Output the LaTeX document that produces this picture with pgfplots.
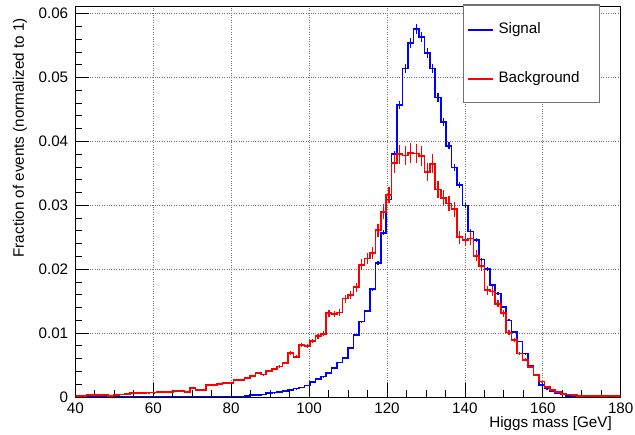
\documentclass[border=0pt]{standalone}
\usepackage{fontspec}
\setmainfont{Liberation Sans}
\usepackage{pgfplots}
\usepackage{pgfplotstable}
\pgfplotsset{compat=1.18}
\pgfplotstableread{
x s b
40 0 0.0002
41.4 0 0.0002
42.8 0 0.0003
44.2 0 0.0003
45.6 0 0.0003
47 0 0.0003
48.4 0 0.0002
49.8 0 0.0003
51.2 0 0.0004
52.6 0 0.0005
54 0 0.0006
55.4 0 0.0006
56.8 0 0.0006
58.2 0 0.0007
59.6 0 0.0007
61 0 0.0008
62.4 0 0.0008
63.8 0 0.0008
65.2 0 0.0009
66.6 0 0.0009
68 0 0.0008
69.4 0 0.0014
70.8 0 0.0011
72.2 0 0.0011
73.6 0.0001 0.0019
75 0.0001 0.0019
76.4 0.0001 0.0020
77.8 0.0001 0.0022
79.2 0.0001 0.0022
80.6 0.0001 0.0027
82 0.0001 0.0027
83.4 0.0002 0.0030
84.8 0.0003 0.0033
86.2 0.0003 0.0038
87.6 0.0004 0.0035
89 0.0006 0.0041
90.4 0.0007 0.0044
91.8 0.0008 0.0048
93.2 0.0009 0.0053
94.6 0.0011 0.0069
96 0.0013 0.0063
97.4 0.0015 0.0081
98.8 0.0018 0.0080
100.2 0.0023 0.0088
101.6 0.0028 0.0095
103 0.0032 0.0099
104.4 0.0038 0.0131
105.8 0.0045 0.0130
107.2 0.0054 0.0132
108.6 0.0061 0.0154
110 0.0077 0.0160
111.4 0.0097 0.0172
112.8 0.0118 0.0207
114.2 0.0135 0.0217
115.6 0.0169 0.0225
117 0.0210 0.0261
118.4 0.0257 0.0290
119.8 0.0309 0.0316
121.2 0.0380 0.0366
122.6 0.0457 0.0380
124 0.0514 0.0378
125.4 0.0554 0.0382
126.8 0.0576 0.0381
128.2 0.0563 0.0377
129.6 0.0538 0.0352
131 0.0514 0.0365
132.4 0.0469 0.0325
133.8 0.0430 0.0311
135.2 0.0393 0.0303
136.6 0.0359 0.0294
138 0.0332 0.0250
139.4 0.0300 0.0246
140.8 0.0259 0.0248
142.2 0.0246 0.0221
143.6 0.0215 0.0205
145 0.0200 0.0167
146.4 0.0175 0.0165
147.8 0.0162 0.0146
149.2 0.0141 0.0131
150.6 0.0120 0.0101
152 0.0102 0.0089
153.4 0.0087 0.0068
154.8 0.0068 0.0058
156.2 0.0049 0.0047
157.6 0.0034 0.0034
159 0.0019 0.0024
160.4 0.0013 0.0016
161.8 0.0009 0.0011
163.2 0.0006 0.0008
164.6 0.0004 0.0005
166 0.0002 0.0004
167.4 0.0001 0.0003
168.8 0.0001 0.00015
170.2 0 0.00015
171.6 0 0.00015
173 0 0.00015
174.4 0 0.00015
175.8 0 0.00015
177.2 0 0.00015
178.6 0 0.00015
180 0 0.00015
}\data
\begin{document}
\begin{tikzpicture}[font=\fontsize{15.2}{18}\selectfont]
\useasboundingbox (-75.4pt,-38pt) rectangle (559.6pt,397pt);
\begin{axis}[
  at={(0pt,0pt)}, anchor=south west,
  scale only axis, width=545.3pt, height=391pt,
  xmin=40, xmax=180, ymin=0, ymax=0.0612,
  xtick={40,60,...,180}, minor x tick num=3,
  ytick={0,0.01,0.02,0.03,0.04,0.05,0.06},
  yticklabels={0,0.01,0.02,0.03,0.04,0.05,0.06},
  minor y tick num=4,
  scaled y ticks=false,
  tick pos=left, tick align=inside,
  major tick length=14pt, minor tick length=7pt,
  grid=major,
  major grid style={dotted, black!55, line width=0.7pt},
  axis line style={line width=0.8pt},
  every tick/.style={black, line width=0.8pt},
  /pgf/number format/assume math mode=true,
  xticklabel style={inner sep=0pt, yshift=-6pt},
  yticklabel style={inner sep=0pt, xshift=-7pt},
  xlabel={Higgs mass [GeV]},
  xlabel style={at={(axis description cs:0.984,-0.069)}, anchor=east, inner sep=0pt},
  ylabel={Fraction of events (normalized to 1)},
  ylabel style={at={(axis description cs:-0.1016,0.969)}, anchor=east, inner sep=0pt},
]
\addplot[const plot mark left, blue, line width=1.6pt] table[x=x, y=s]{\data};
\addplot[draw=none, mark=none,
  error bars/.cd, y dir=both, y fixed relative=0.014, error mark=none,
  error bar style={draw=blue, line width=1.2pt, solid}]
  table[x expr=\thisrow{x}+0.7, y=s]{\data};
\addplot[const plot mark left, red, line width=1.6pt] table[x=x, y=b]{\data};
\addplot[draw=none, mark=none,
  error bars/.cd, y dir=both, y fixed relative=0.04, error mark=none,
  error bar style={draw=red, line width=1.2pt, solid}]
  table[x expr=\thisrow{x}+0.7, y=b]{\data};
\end{axis}
% legend box
\draw[draw=black!55, line width=1.2pt, fill=white] (387.9pt,392pt) rectangle (523.9pt,294.3pt);
\draw[color=blue, line width=1.6pt] (392.9pt,367pt) -- (417.9pt,367pt);
\node[anchor=base west, inner sep=0pt, text=black] at (422.9pt,363pt) {Signal};
\draw[color=red, line width=1.6pt] (392.9pt,318pt) -- (417.9pt,318pt);
\node[anchor=base west, inner sep=0pt, text=black] at (422.9pt,314pt) {Background};
\end{tikzpicture}
\end{document}
